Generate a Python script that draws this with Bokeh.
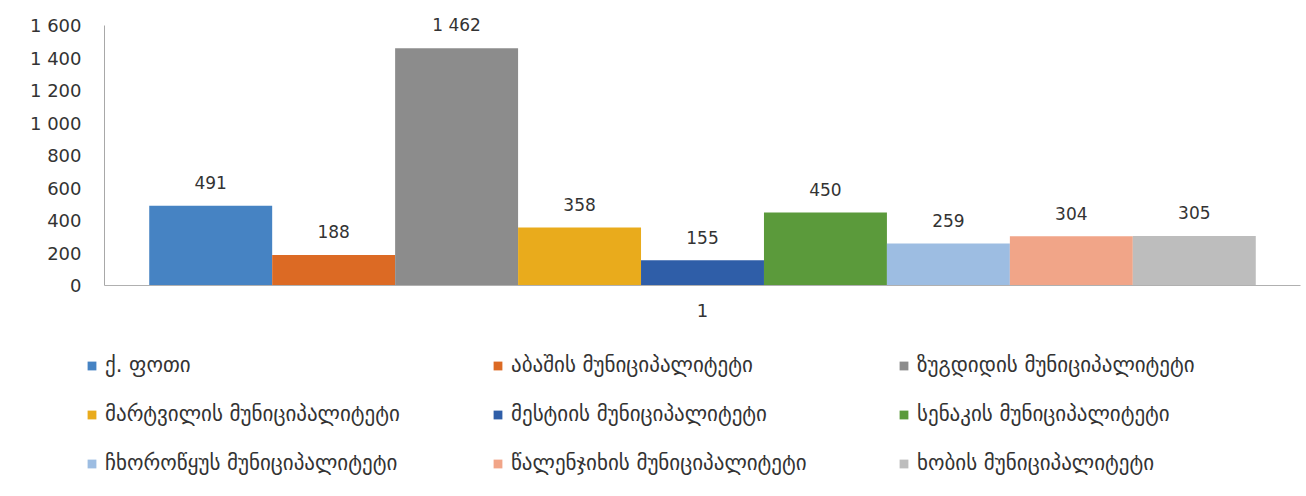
from bokeh.plotting import figure
from bokeh.layouts import column
from bokeh.models import Legend, LegendItem, FixedTicker, ColumnDataSource
from bokeh.transform import dodge
from bokeh.core.properties import value
from bokeh.embed import file_html
from bokeh.resources import INLINE

categories = ["1"]
series_names = [
    "ქ. ფოთი",
    "აბაშის მუნიციპალიტეტი",
    "ზუგდიდის მუნიციპალიტეტი",
    "მარტვილის მუნიციპალიტეტი",
    "მესტიის მუნიციპალიტეტი",
    "სენაკის მუნიციპალიტეტი",
    "ჩხოროწყუს მუნიციპალიტეტი",
    "წალენჯიხის მუნიციპალიტეტი",
    "ხობის მუნიციპალიტეტი",
]
series_values = [491, 188, 1462, 358, 155, 450, 259, 304, 305]
value_labels = ["491", "188", "1 462", "358", "155", "450", "259", "304", "305"]
series_colors = ["#4683c3", "#dc6a24", "#8c8c8c", "#e9ab1c", "#2f5ea8",
                 "#5b9a3b", "#9dbde2", "#f1a588", "#bdbdbd"]
y_ticks = [0, 200, 400, 600, 800, 1000, 1200, 1400, 1600]
y_tick_labels = ["0", "200", "400", "600", "800", "1 000", "1 200", "1 400", "1 600"]

NUM_FONT = "DejaVu Sans"
TXT = "#333333"

p = figure(x_range=categories, y_range=(0, 1700), width=1304, height=325,
           output_backend="svg", toolbar_location=None,
           min_border_left=104, min_border_right=4, min_border_top=9,
           min_border_bottom=40)
p.frame_align = False
p.outline_line_color = None
p.xgrid.grid_line_color = None
p.ygrid.grid_line_color = None
p.background_fill_color = "white"
p.border_fill_color = "white"

lg = figure(x_range=categories, y_range=(10000, 10001), width=1304, height=169,
            output_backend="svg", toolbar_location=None,
            x_axis_location=None, y_axis_location=None,
            min_border_left=0, min_border_right=0, min_border_top=0,
            min_border_bottom=0)
lg.frame_align = False
lg.outline_line_color = None
lg.grid.grid_line_color = None
lg.background_fill_color = "white"
lg.border_fill_color = "white"

bw = 0.1028
n = len(series_values)
items = []
for i in range(n):
    src = ColumnDataSource(dict(x=categories, top=[series_values[i]], label=[value_labels[i]]))
    off = (i - (n - 1) / 2) * bw
    p.vbar(x=dodge("x", off, range=p.x_range), top="top", width=bw, bottom=0,
           source=src, fill_color=series_colors[i], line_color=None)
    p.text(x=dodge("x", off, range=p.x_range), y="top", text="label", source=src,
           text_align="center", text_baseline="middle", y_offset=-23,
           text_font=value(NUM_FONT), text_font_size="17px", text_color=TXT)
    # legend key renderer (its bars lie outside this panel's range)
    r = lg.vbar(x=dodge("x", off, range=lg.x_range), top="top", width=bw, bottom=0,
                source=src, fill_color=series_colors[i], line_color=None)
    items.append(LegendItem(label=series_names[i], renderers=[r]))

p.yaxis.ticker = FixedTicker(ticks=y_ticks)
p.yaxis.bounds = (y_ticks[0], y_ticks[-1])
p.yaxis.major_label_overrides = {t: l for t, l in zip(y_ticks, y_tick_labels)}
p.yaxis.major_tick_line_color = None
p.yaxis.major_tick_out = 0
p.yaxis.major_tick_in = 0
p.yaxis.minor_tick_line_color = None
p.yaxis.axis_line_color = "#a8a8a8"
p.yaxis.major_label_standoff = 23
p.yaxis.major_label_text_font = NUM_FONT
p.yaxis.major_label_text_font_size = "18px"
p.yaxis.major_label_text_color = TXT

p.xaxis.major_tick_line_color = None
p.xaxis.major_tick_out = 0
p.xaxis.major_tick_in = 0
p.xaxis.minor_tick_line_color = None
p.xaxis.axis_line_color = "#b0b0b0"
p.xaxis.major_label_standoff = 18
p.xaxis.major_label_text_font = NUM_FONT
p.xaxis.major_label_text_font_size = "18px"
p.xaxis.major_label_text_color = TXT

legend = Legend(items=items, nrows=3, ncols=3, orientation="horizontal",
                location=(86, 18), margin=0, padding=10,
                spacing=23, label_height=26, glyph_width=11, glyph_height=11,
                label_standoff=8, label_width=364,
                label_text_font="DejaVu Sans", label_text_font_size="21px",
                label_text_color=TXT, border_line_color=None,
                background_fill_alpha=0)
lg.add_layout(legend, "center")

layout = column(p, lg, spacing=0)
open("out.html", "w").write(file_html(layout, INLINE))
